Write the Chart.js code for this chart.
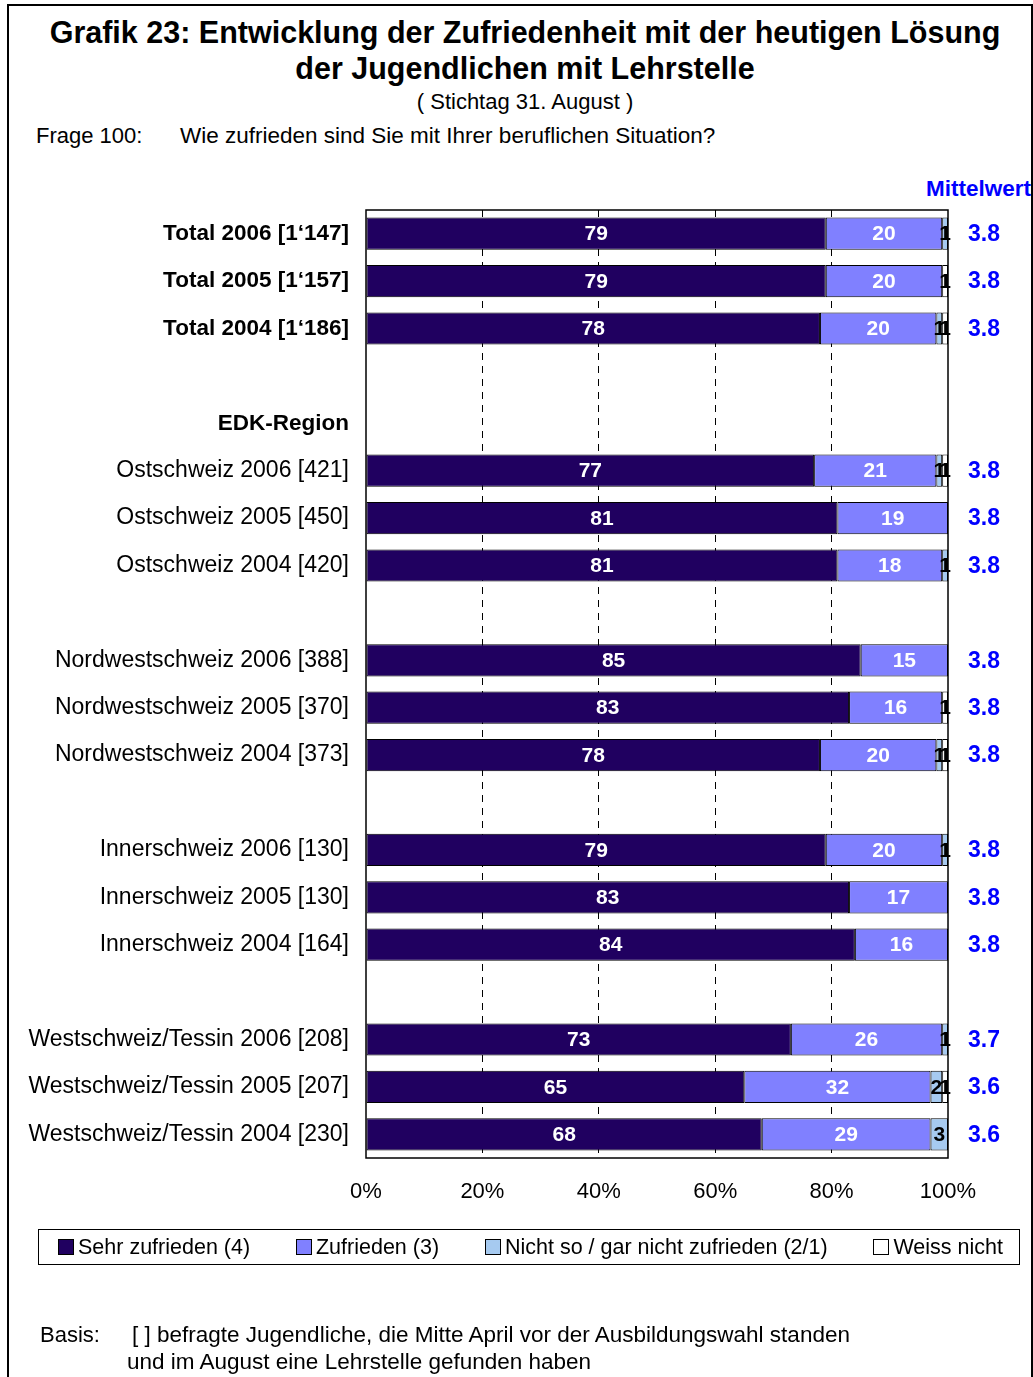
<!DOCTYPE html>
<html>
<head>
<meta charset="utf-8">
<script src="https://cdn.jsdelivr.net/npm/chart.js@4/dist/chart.umd.min.js"></script>
<style>
  body { margin: 0; background: #fff; font-family: 'Liberation Sans', Arial, sans-serif; }
  #page { position: relative; width: 1033px; height: 1377px; overflow: hidden; }
  #frame { position: absolute; left: 7px; top: 4px; width: 1022px; height: 1400px; border: 2px solid #000; }
  .txt { position: absolute; white-space: nowrap; color: #000; }
  #chartBox { position: absolute; left: 0; top: 0; width: 1033px; height: 1377px; }
  #legend { position: absolute; left: 38px; top: 1229px; width: 982px; height: 36px; border: 1px solid #000;
            display: flex; align-items: center; justify-content: space-between; padding: 0 16px 0 19px; box-sizing: border-box; font-size: 21.5px; }
  #legend span.sw { display: inline-block; width: 14px; height: 14px; border: 1px solid #000; margin-right: 4px; vertical-align: -1px; }
</style>
</head>
<body>
<div id="page">
  <div id="frame"></div>
  <div class="txt" style="left:0;width:1050px;top:15px;text-align:center;font-weight:bold;font-size:30.5px;">Grafik 23: Entwicklung der Zufriedenheit mit der heutigen Lösung</div>
  <div class="txt" style="left:0;width:1050px;top:51px;text-align:center;font-weight:bold;font-size:30.5px;">der Jugendlichen mit Lehrstelle</div>
  <div class="txt" style="left:0;width:1050px;top:89px;text-align:center;font-size:22px;">( Stichtag 31. August )</div>
  <div class="txt" style="left:36px;top:123px;font-size:22px;">Frage 100:</div>
  <div class="txt" style="left:180px;top:123px;font-size:22.5px;">Wie zufrieden sind Sie mit Ihrer beruflichen Situation?</div>
  <div class="txt" style="right:2px;top:176px;font-size:22.5px;font-weight:bold;color:#0000ff;">Mittelwert</div>
  <div id="chartBox"><canvas id="chart" width="1033" height="1377"></canvas></div>
  <div id="legend"></div>
  <div class="txt" style="left:40px;top:1322px;font-size:22px;">Basis:</div>
  <div class="txt" style="left:132px;top:1322px;font-size:22.5px;">[ ] befragte Jugendliche, die Mitte April vor der Ausbildungswahl standen</div>
  <div class="txt" style="left:127px;top:1349px;font-size:22.5px;">und im August eine Lehrstelle gefunden haben</div>
</div>
<script>
const categories = [
    'Total 2006 [1‘147]', 'Total 2005 [1‘157]', 'Total 2004 [1‘186]', '', 'EDK-Region',
    'Ostschweiz 2006 [421]', 'Ostschweiz 2005 [450]', 'Ostschweiz 2004 [420]', '',
    'Nordwestschweiz 2006 [388]', 'Nordwestschweiz 2005 [370]', 'Nordwestschweiz 2004 [373]', '',
    'Innerschweiz 2006 [130]', 'Innerschweiz 2005 [130]', 'Innerschweiz 2004 [164]', '',
    'Westschweiz/Tessin 2006 [208]', 'Westschweiz/Tessin 2005 [207]', 'Westschweiz/Tessin 2004 [230]'
];
const boldRows = [0, 1, 2, 4];

const seriesNames = ['Sehr zufrieden (4)', 'Zufrieden (3)', 'Nicht so / gar nicht zufrieden (2/1)', 'Weiss nicht'];
const sehrZufrieden  = [79, 79, 78, null, null, 77, 81, 81, null, 85, 83, 78, null, 79, 83, 84, null, 73, 65, 68];
const zufrieden      = [20, 20, 20, null, null, 21, 19, 18, null, 15, 16, 20, null, 20, 17, 16, null, 26, 32, 29];
const nichtZufrieden = [1, 0, 1, null, null, 1, 0, 1, null, 0, 0, 1, null, 1, 0, 0, null, 1, 2, 3];
const weissNicht     = [0, 1, 1, null, null, 1, 0, 0, null, 0, 1, 1, null, 0, 0, 0, null, 0, 1, 0];
const mittelwert     = [3.8, 3.8, 3.8, null, null, 3.8, 3.8, 3.8, null, 3.8, 3.8, 3.8, null, 3.8, 3.8, 3.8, null, 3.7, 3.6, 3.6];
const xTicks = [0, 20, 40, 60, 80, 100];

const colors = ['#200060', '#8080ff', '#a6caf0', '#ffffff'];
const labelColors = ['#ffffff', '#ffffff', '#000000', '#000000'];
const FONT = "'Liberation Sans', Arial, sans-serif";

// legend in html
const legend = document.getElementById('legend');
seriesNames.forEach((name, i) => {
    const item = document.createElement('div');
    item.innerHTML = `<span class="sw" style="background:${colors[i]}"></span>${name}`;
    legend.appendChild(item);
});

// values inside the bars + mean column + frame
const barLabels = {
    id: 'barLabels',
    afterDatasetsDraw(chart) {
        const ctx = chart.ctx;
        ctx.save();
        ctx.font = `bold 21px ${FONT}`;
        ctx.textAlign = 'center';
        ctx.textBaseline = 'middle';
        chart.data.datasets.forEach((ds, di) => {
            const meta = chart.getDatasetMeta(di);
            meta.data.forEach((bar, i) => {
                const v = ds.data[i];
                if (!v) return;
                ctx.fillStyle = labelColors[di];
                ctx.fillText(v, (bar.x + bar.base) / 2, bar.y + 1);
            });
        });
        // plot frame
        const a = chart.chartArea;
        ctx.strokeStyle = '#000';
        ctx.lineWidth = 1.5;
        ctx.strokeRect(a.left, a.top, a.right - a.left, a.bottom - a.top);
        // mean values
        ctx.fillStyle = '#0000ff';
        ctx.font = `bold 23px ${FONT}`;
        const yScale = chart.scales.y;
        mittelwert.forEach((m, i) => {
            if (m == null) return;
            ctx.fillText(m.toFixed(1), a.right + 36, yScale.getPixelForValue(i) + 1);
        });
        ctx.restore();
    }
};

const datasets = [sehrZufrieden, zufrieden, nichtZufrieden, weissNicht].map((d, i) => ({
    label: seriesNames[i],
    data: d,
    backgroundColor: colors[i],
    borderColor: '#000',
    borderWidth: 1,
    borderSkipped: false,
    barPercentage: 0.68,
    categoryPercentage: 1
}));

new Chart(document.getElementById('chart'), {
    type: 'bar',
    data: { labels: categories, datasets: datasets },
    plugins: [barLabels],
    options: {
        indexAxis: 'y',
        responsive: false,
        animation: false,
        layout: { padding: { left: 10, right: 85, top: 210, bottom: 159 } },
        plugins: { legend: { display: false }, tooltip: { enabled: false } },
        scales: {
            x: {
                stacked: true,
                min: 0,
                max: 100,
                afterBuildTicks: (scale) => { scale.ticks = xTicks.map(v => ({ value: v })); },
                afterFit: (scale) => { scale.height = 60; },
                ticks: {
                    padding: 21,
                    color: '#000',
                    font: { family: FONT, size: 22 },
                    callback: (v) => v + '%'
                },
                grid: {
                    drawTicks: false,
                    lineWidth: 1,
                    color: (c) => (c.tick && (c.tick.value === 0 || c.tick.value === 100)) ? 'rgba(0,0,0,0)' : '#000'
                },
                border: { display: false, dash: [7, 6] }
            },
            y: {
                stacked: true,
                afterFit: (scale) => { scale.width = 356; },
                ticks: {
                    autoSkip: false,
                    padding: 17,
                    color: '#000',
                    font: (c) => ({ family: FONT, size: boldRows.includes(c.index) ? 22.5 : 23, weight: boldRows.includes(c.index) ? 'bold' : 'normal' })
                },
                grid: { display: false, drawTicks: false },
                border: { display: false }
            }
        }
    }
});
</script>
</body>
</html>
